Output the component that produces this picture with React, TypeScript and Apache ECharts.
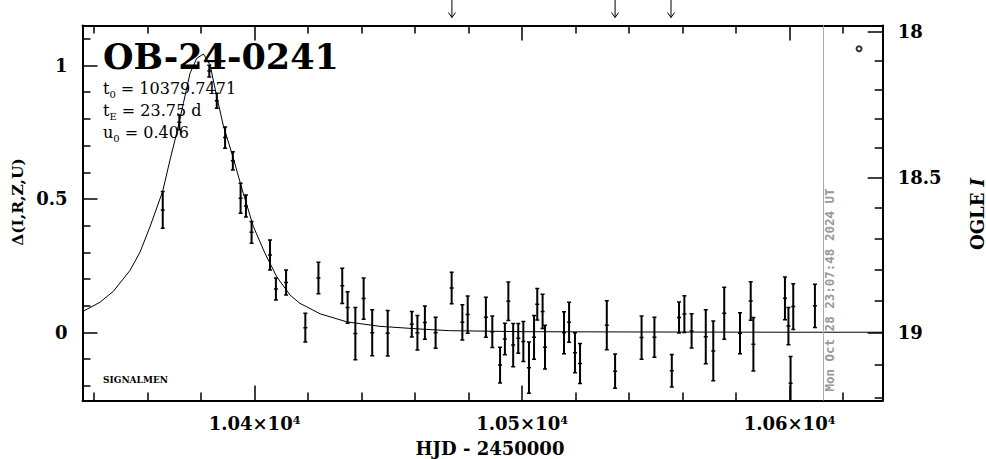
import React, { useEffect, useRef } from 'react';
import * as echarts from 'echarts';

// ---- data ----
const obsTime = [
  10365.7, 10371.9, 10383.1, 10385.9, 10389.0, 10391.9, 10394.8, 10396.8, 10398.9, 10405.8,
  10408.0, 10411.8, 10419.0, 10423.9, 10432.8, 10434.8, 10437.7, 10440.8, 10444.0, 10449.8,
  10458.8, 10460.9, 10463.7, 10467.7, 10473.7, 10477.7, 10479.7, 10486.5, 10488.9, 10491.8,
  10493.6, 10494.9, 10496.7, 10498.6, 10500.5, 10502.6, 10504.5, 10505.7, 10507.7, 10508.6,
  10515.7, 10517.6, 10519.8, 10521.7, 10531.7, 10534.8, 10544.7, 10549.5, 10556.0, 10558.7,
  10560.7, 10563.4, 10568.7, 10571.5, 10575.6, 10581.5, 10585.5, 10586.5, 10598.3, 10599.6,
  10600.4, 10601.4, 10609.5,
];
const obsDelta = [
  0.459, 0.787, 0.979, 0.868, 0.730, 0.643, 0.503, 0.474, 0.375, 0.290,
  0.163, 0.187, 0.018, 0.204, 0.175, 0.094, -0.004, 0.127, -0.001, -0.003,
  0.031, -0.001, 0.037, -0.001, 0.167, 0.038, 0.067, 0.057, 0.003, -0.122,
  -0.024, 0.117, -0.047, -0.022, -0.034, -0.132, -0.018, 0.106, 0.079, -0.055,
  -0.001, 0.038, -0.076, -0.116, 0.027, -0.145, -0.019, -0.018, -0.143, 0.056,
  0.069, 0.006, -0.016, -0.069, 0.072, -0.003, 0.118, -0.044, 0.128, 0.024,
  -0.190, 0.097, 0.100,
];
const obsErr = [
  0.069, 0.028, 0.022, 0.028, 0.040, 0.034, 0.056, 0.041, 0.041, 0.056,
  0.041, 0.047, 0.054, 0.059, 0.066, 0.059, 0.098, 0.077, 0.086, 0.085,
  0.048, 0.065, 0.062, 0.058, 0.059, 0.066, 0.070, 0.075, 0.059, 0.067,
  0.059, 0.072, 0.081, 0.056, 0.075, 0.096, 0.082, 0.059, 0.064, 0.082,
  0.079, 0.075, 0.075, 0.075, 0.092, 0.064, 0.081, 0.075, 0.061, 0.058,
  0.069, 0.064, 0.101, 0.112, 0.097, 0.077, 0.072, 0.100, 0.080, 0.070,
  0.100, 0.086, 0.081,
];
const modelTime = [
  10335.7, 10342.2, 10347.2, 10353.5, 10357.2, 10360.9, 10365.7, 10368.4, 10370.9, 10373.4,
  10375.9, 10378.4, 10380.9, 10383.4, 10385.9, 10388.3, 10392.1, 10395.8, 10399.6, 10403.9,
  10408.3, 10413.3, 10417.0, 10419.0, 10424.5, 10434.5, 10446.9, 10461.9, 10472.4, 10500.0,
  10540.0, 10600.0, 10634.8,
];
const modelDelta = [
  0.078, 0.113, 0.154, 0.233, 0.301, 0.395, 0.530, 0.646, 0.746, 0.858,
  0.971, 1.027, 1.043, 1.002, 0.883, 0.777, 0.652, 0.521, 0.396, 0.297,
  0.209, 0.140, 0.109, 0.099, 0.070, 0.040, 0.023, 0.013, 0.007, 0.003,
  0.002, 0.001, 0.001,
];
const arrowTimes = [10473.8, 10534.8, 10555.7];
const markerTime = [10626.0];
const markerDelta = [1.063];
const nowTime = 10612.6;
const nowLabel = 'Mon Oct 28 23:07:48 2024 UT';

const eventName = 'OB-24-0241';
const paramSymbols = ['t', 't', 'u'];
const paramSubs = ['0', 'E', '0'];
const paramValues = ['10379.7471', '23.75 d', '0.406'];

const xMin = 10335.7;
const xMax = 10634.84;
const xMajorTicks = [10400, 10500, 10600];
const xMajorMantissa = ['1.04', '1.05', '1.06'];
const xMinorTicks = [10340, 10360, 10380, 10420, 10440, 10460, 10480, 10520, 10540, 10560, 10580, 10620];

const yMin = -0.2547;
const yMax = 1.1498;
const yMajorTicks = [0, 0.5, 1];
const yMajorLabels = ['0', '0.5', '1'];
const yMinorTicks = [-0.2, -0.1, 0.1, 0.2, 0.3, 0.4, 0.6, 0.7, 0.8, 0.9, 1.1];

const magMajorTicks = [18, 18.5, 19];
const magMajorLabels = ['18', '18.5', '19'];
const magMinorTicks = [18.1, 18.2, 18.3, 18.4, 18.6, 18.7, 18.8, 18.9, 19.1, 19.2];
const baselineMag = 19.0;
const sourceFraction = 0.83;

const magToDelta = (m: number) =>
  2.5 * Math.log10(1 + (Math.pow(10, 0.4 * (baselineMag - m)) - 1) / sourceFraction);

const SERIF = '"DejaVu Serif", serif';

export default function App() {
  const ref = useRef<HTMLDivElement>(null);
  useEffect(() => {
    if (!ref.current) return;
    const chart = echarts.init(ref.current, undefined, { renderer: 'svg' });

    const magMajorDelta = magMajorTicks.map(magToDelta);
    const magMinorDelta = magMinorTicks.map(magToDelta);

    const axisLine = { show: true, onZero: false, lineStyle: { color: '#000', width: 2 } };
    const noLine = { show: false, onZero: false };
    const majorTick = (vals: number[]) => ({
      show: true, inside: true, length: 15, customValues: vals,
      lineStyle: { color: '#000', width: 1.5 },
    });
    const minorTick = (vals: number[]) => ({
      show: true, inside: true, length: 8, customValues: vals,
      lineStyle: { color: '#000', width: 1.5 },
    });
    const baseX = { type: 'value', min: xMin, max: xMax, splitLine: { show: false } };
    const baseY = { type: 'value', min: yMin, max: yMax, splitLine: { show: false } };

    const sub = { fontSize: 10, lineHeight: 22, verticalAlign: 'bottom', fontFamily: SERIF, fill: '#000' };
    const val = { fontSize: 16, lineHeight: 22, verticalAlign: 'middle', fontFamily: SERIF, fill: '#000' };

    chart.setOption({
      animation: false,
      backgroundColor: '#fff',
      textStyle: { fontFamily: SERIF },
      grid: { left: 82.5, right: 103.3, top: 25.5, bottom: 58.5, containLabel: false },
      xAxis: [
        {
          ...baseX, position: 'bottom', axisLine, axisTick: majorTick(xMajorTicks),
          axisLabel: {
            show: true, customValues: xMajorTicks, margin: 14,
            formatter: (v: number) => {
              const i = xMajorTicks.findIndex((t) => Math.abs(t - v) < 1e-6);
              return `{n|${xMajorMantissa[i]}×10}{s|4}`;
            },
            rich: {
              n: { fontSize: 18, lineHeight: 18, fontWeight: 'bold', fontFamily: SERIF, color: '#000' },
              s: { fontSize: 11, lineHeight: 10, verticalAlign: 'top', fontWeight: 'bold', fontFamily: SERIF, color: '#000' },
            },
          },
        },
        { ...baseX, position: 'bottom', axisLine: noLine, axisTick: minorTick(xMinorTicks), axisLabel: { show: false } },
        { ...baseX, position: 'top', axisLine, axisTick: majorTick(xMajorTicks), axisLabel: { show: false } },
        { ...baseX, position: 'top', axisLine: noLine, axisTick: minorTick(xMinorTicks), axisLabel: { show: false } },
      ],
      yAxis: [
        {
          ...baseY, position: 'left', axisLine, axisTick: majorTick(yMajorTicks),
          axisLabel: {
            show: true, customValues: yMajorTicks, margin: 15, color: '#000',
            fontSize: 18, fontWeight: 'bold', fontFamily: SERIF,
            formatter: (v: number) => {
              const i = yMajorTicks.findIndex((t) => Math.abs(t - v) < 1e-6);
              return yMajorLabels[i] ?? '';
            },
          },
        },
        { ...baseY, position: 'left', axisLine: noLine, axisTick: minorTick(yMinorTicks), axisLabel: { show: false } },
        {
          ...baseY, position: 'right', axisLine, axisTick: majorTick(magMajorDelta),
          axisLabel: {
            show: true, customValues: magMajorDelta, margin: 15, color: '#000',
            fontSize: 18, fontWeight: 'bold', fontFamily: SERIF,
            formatter: (v: number) => {
              let best = 0;
              magMajorDelta.forEach((d, i) => { if (Math.abs(d - v) < Math.abs(magMajorDelta[best] - v)) best = i; });
              return magMajorLabels[best];
            },
          },
        },
        { ...baseY, position: 'right', axisLine: noLine, axisTick: minorTick(magMinorDelta), axisLabel: { show: false } },
      ],
      graphic: [
        {
          type: 'text', x: 103, y: 56, silent: true,
          style: { text: eventName, font: `bold 35px ${SERIF}`, fill: '#000', align: 'left', verticalAlign: 'middle' },
        },
        ...paramSymbols.map((s, i) => ({
          type: 'text', x: 103, y: 88 + i * 22, silent: true,
          style: {
            text: `{v|${s}}{s|${paramSubs[i]}}{v| = ${paramValues[i]}}`,
            align: 'left', verticalAlign: 'middle',
            rich: { v: val, s: sub },
          },
        })),
        {
          type: 'text', x: 103, y: 380, silent: true,
          style: { text: 'SIGNALMEN', font: `bold 9px ${SERIF}`, fill: '#000', align: 'left', verticalAlign: 'middle' },
        },
        {
          type: 'text', x: 829, y: 290, rotation: Math.PI / 2, silent: true,
          style: { text: nowLabel, font: `bold 12.5px "DejaVu Sans Mono", monospace`, fill: '#999999', align: 'center', verticalAlign: 'middle' },
        },
        {
          type: 'text', x: 17, y: 202, rotation: Math.PI / 2, silent: true,
          style: { text: 'Δ(I,R,Z,U)', font: `bold 15.5px ${SERIF}`, fill: '#000', align: 'center', verticalAlign: 'middle' },
        },
        {
          type: 'text', x: 977, y: 214, rotation: Math.PI / 2, silent: true,
          style: {
            text: '{a|OGLE }{b|I}', align: 'center', verticalAlign: 'middle',
            rich: {
              a: { fontSize: 18, fontWeight: 'bold', fontFamily: SERIF, fill: '#000' },
              b: { fontSize: 18, fontWeight: 'bold', fontStyle: 'italic', fontFamily: SERIF, fill: '#000' },
            },
          },
        },
        {
          type: 'text', x: 490, y: 448, silent: true,
          style: { text: 'HJD - 2450000', font: `bold 18px ${SERIF}`, fill: '#000', align: 'center', verticalAlign: 'middle' },
        },
      ],
      series: [
        {
          type: 'line', xAxisIndex: 0, yAxisIndex: 0, showSymbol: false, smooth: false,
          data: modelTime.map((t, i) => [t, modelDelta[i]]),
          lineStyle: { color: '#000', width: 1 }, silent: true,
          markLine: {
            silent: true, symbol: ['none', 'none'], label: { show: false },
            lineStyle: { color: '#a8a8a8', width: 1, type: 'solid' },
            data: [{ xAxis: nowTime }],
          },
        },
        {
          type: 'custom', xAxisIndex: 0, yAxisIndex: 0, clip: true, silent: true,
          encode: { x: 0, y: 1 },
          data: obsTime.map((t, i) => [t, obsDelta[i], obsErr[i]]),
          renderItem: (params: any, api: any) => {
            const t = api.value(0), d = api.value(1), e = api.value(2);
            const c = api.coord([t, d]);
            const hi = api.coord([t, d + e]);
            const lo = api.coord([t, d - e]);
            const st = { stroke: '#000', lineWidth: 2 };
            const cap = { stroke: '#000', lineWidth: 1.5 };
            return {
              type: 'group',
              children: [
                { type: 'line', shape: { x1: c[0], y1: hi[1], x2: c[0], y2: lo[1] }, style: st },
                { type: 'line', shape: { x1: c[0] - 2, y1: hi[1], x2: c[0] + 2, y2: hi[1] }, style: cap },
                { type: 'line', shape: { x1: c[0] - 2, y1: lo[1], x2: c[0] + 2, y2: lo[1] }, style: cap },
                { type: 'line', shape: { x1: c[0] - 2, y1: c[1], x2: c[0] + 2, y2: c[1] }, style: cap },
              ],
            };
          },
        },
        {
          type: 'custom', xAxisIndex: 0, yAxisIndex: 0, clip: false, silent: true,
          encode: { x: 0, y: 1 },
          data: arrowTimes.map((t) => [t, yMax]),
          renderItem: (params: any, api: any) => {
            const p = api.coord([api.value(0), api.value(1)]);
            const top = p[1];
            const st = { stroke: '#000', lineWidth: 1, fill: 'none' };
            return {
              type: 'group',
              children: [
                { type: 'line', shape: { x1: p[0], y1: top - 26, x2: p[0], y2: top - 8 }, style: st },
                { type: 'polyline', shape: { points: [[p[0] - 3.5, top - 13], [p[0], top - 8], [p[0] + 3.5, top - 13]] }, style: st },
              ],
            };
          },
        },
        {
          type: 'scatter', xAxisIndex: 0, yAxisIndex: 0, symbol: 'circle', symbolSize: 5, silent: true,
          data: markerTime.map((t, i) => [t, markerDelta[i]]),
          itemStyle: { color: '#fff', borderColor: '#000', borderWidth: 2 },
        },
      ],
    });
    return () => chart.dispose();
  }, []);
  return <div ref={ref} style={{ position: 'absolute', left: 0, top: 0, width: 986, height: 459 }} />;
}
